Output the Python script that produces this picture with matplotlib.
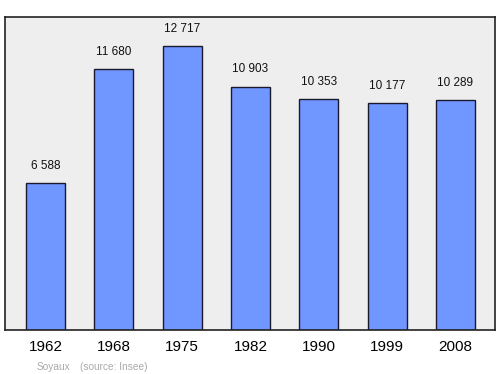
import matplotlib.pyplot as plt

years = ["1962", "1968", "1975", "1982", "1990", "1999", "2008"]
population = [6588, 11680, 12717, 10903, 10353, 10177, 10289]
town = "Soyaux"
source = "(source: Insee)"

plt.rcParams['font.family'] = ['Liberation Sans', 'DejaVu Sans']

fig = plt.figure(figsize=(5, 3.74), dpi=100)
ax = fig.add_axes([0.01, 0.1176, 0.98, 0.837])
ax.set_facecolor('#eeeeee')

xs = list(range(len(years)))
ax.bar(xs, population, width=0.571, color='#7096ff', edgecolor='#1a1a2e', linewidth=1.0, zorder=2)
for x, v in zip(xs, population):
    label = f"{v:,}".replace(",", " ")
    ax.text(x, v + 500, label, ha='center', va='bottom', fontsize=8.5, color='#111111')

ax.set_xlim(-0.593, 6.58)
ax.set_ylim(0, 14017)
ax.set_yticks([])
ax.set_xticks(xs)
ax.set_xticklabels(years, fontsize=11)
ax.tick_params(axis='x', length=0, pad=7)
for s in ax.spines.values():
    s.set_color('#222222')
    s.set_linewidth(1.2)

fig.text(0.074, 0.012, town, fontsize=7.3, color='#aaaaaa')
fig.text(0.160, 0.012, source, fontsize=7.3, color='#aaaaaa')

fig.savefig("out.png", dpi=100)
